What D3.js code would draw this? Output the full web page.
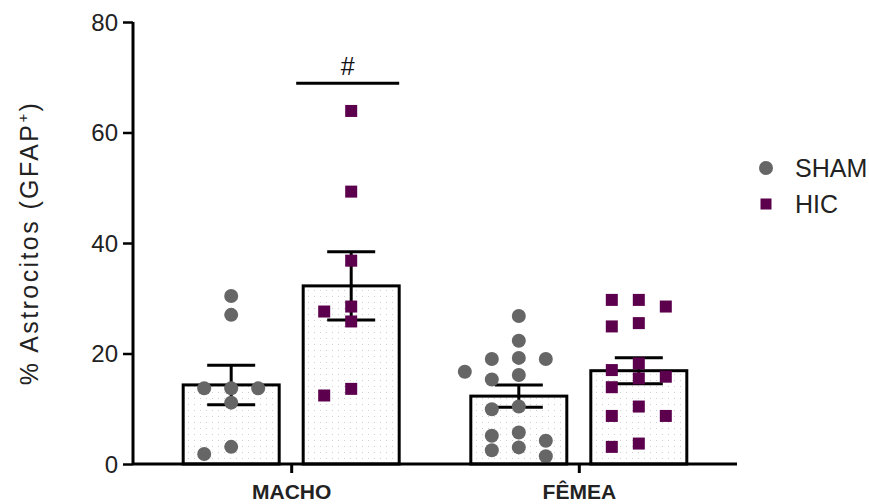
<!DOCTYPE html>
<html lang="pt">

<head>
	<meta charset="utf-8">
	<title>astrocitos_gfap</title>
	<style>
		body { margin: 0; background: #fff; }
		svg { display: block; font-family: "Liberation Sans", Arial, sans-serif; }
	</style>
</head>

<body>
	<script src="https://cdn.jsdelivr.net/npm/d3@7"></script>
	<script>

		const categories = ["MACHO", "FÊMEA"];
		const groups = ["SHAM", "HIC"];
		const yTicks = [0, 20, 40, 60, 80];

		// individual animals
		const machoSham = [30.4, 27.0, 13.7, 13.7, 13.7, 11.1, 3.1, 1.8];
		const machoHic = [63.9, 49.3, 36.8, 28.5, 27.6, 25.8, 13.6, 12.4];
		const femeaSham = [26.8, 22.3, 19.2, 19.0, 19.0, 16.7, 16.1, 15.3, 10.4, 9.9, 5.7, 5.1, 4.2, 3.0, 2.5, 1.4];
		const femeaHic = [29.7, 29.7, 28.5, 25.5, 24.9, 18.2, 17.0, 15.8, 15.5, 13.9, 10.4, 8.7, 8.7, 3.7, 3.1];

		const significance = [{ category: "MACHO", group: "HIC", label: "#", y: 68.9 }];

		const series = [
			{ category: "MACHO", group: "SHAM", values: machoSham },
			{ category: "MACHO", group: "HIC", values: machoHic },
			{ category: "FÊMEA", group: "SHAM", values: femeaSham },
			{ category: "FÊMEA", group: "HIC", values: femeaHic }
		];

		const width = 869;
		const height = 504;
		const margin = { top: 22, left: 133, bottom: 40 };
		const axisEnd = 737;

		const colors = { SHAM: "#666666", HIC: "#5c004d" };

		const svg = d3.select("body")
			.append("svg")
			.attr("width", width)
			.attr("height", height);

		const y = d3.scaleLinear()
			.domain([0, 80])
			.range([height - margin.bottom, margin.top]);

		const x = d3.scalePoint()
			.domain(categories)
			.range([margin.left, axisEnd])
			.padding(0.55);

		const xg = d3.scaleBand()
			.domain(groups)
			.range([-108, 108])
			.paddingInner(0.2);

		// dotted bar fill
		const defs = svg.append("defs");
		const pat = defs.append("pattern")
			.attr("id", "dots")
			.attr("patternUnits", "userSpaceOnUse")
			.attr("width", 6)
			.attr("height", 6);
		pat.append("rect").attr("width", 6).attr("height", 6).attr("fill", "#fff");
		pat.append("rect").attr("x", 2).attr("y", 2).attr("width", 1).attr("height", 1).attr("fill", "#cfcfcf");

		series.forEach((s) => {
			s.mean = d3.mean(s.values);
			s.sem = d3.deviation(s.values) / Math.sqrt(s.values.length);
			s.cx = x(s.category) + xg(s.group) + xg.bandwidth() / 2;
		});

		// bars
		svg.append("g")
			.selectAll("rect")
			.data(series)
			.join("rect")
			.attr("x", (d) => x(d.category) + xg(d.group))
			.attr("y", (d) => y(d.mean))
			.attr("width", xg.bandwidth())
			.attr("height", (d) => y(0) - y(d.mean))
			.attr("fill", "url(#dots)")
			.attr("stroke", "#000")
			.attr("stroke-width", 3);

		// error bars (mean ± SEM)
		const capW = 24;
		const err = svg.append("g")
			.attr("stroke", "#000")
			.attr("stroke-width", 3)
			.selectAll("g")
			.data(series)
			.join("g");
		err.append("line")
			.attr("x1", (d) => d.cx).attr("x2", (d) => d.cx)
			.attr("y1", (d) => y(d.mean - d.sem)).attr("y2", (d) => y(d.mean + d.sem));
		err.append("line")
			.attr("x1", (d) => d.cx - capW).attr("x2", (d) => d.cx + capW)
			.attr("y1", (d) => y(d.mean + d.sem)).attr("y2", (d) => y(d.mean + d.sem));
		err.append("line")
			.attr("x1", (d) => d.cx - capW).attr("x2", (d) => d.cx + capW)
			.attr("y1", (d) => y(d.mean - d.sem)).attr("y2", (d) => y(d.mean - d.sem));

		// simple swarm: spread overlapping points sideways in fixed steps
		function swarm(values, cx) {
			const step = 27;
			const minD = 14;
			const order = [0, -1, 1, -2, 2, -3, 3];
			const placed = [];
			values.slice().sort((a, b) => b - a).forEach((v) => {
				const py = y(v);
				for (const k of order) {
					const px = cx + k * step;
					const hit = placed.some((p) => Math.abs(p.x - px) < 1 && Math.abs(p.y - py) < minD);
					if (!hit) {
						placed.push({ x: px, y: py, v });
						break;
					}
				}
			});
			return placed;
		}

		const pts = svg.append("g");
		series.forEach((s) => {
			const p = swarm(s.values, s.cx);
			if (s.group === "SHAM") {
				pts.append("g").selectAll("circle")
					.data(p)
					.join("circle")
					.attr("cx", (d) => d.x)
					.attr("cy", (d) => d.y)
					.attr("r", 7)
					.attr("fill", colors.SHAM);
			} else {
				pts.append("g").selectAll("rect")
					.data(p)
					.join("rect")
					.attr("x", (d) => d.x - 6)
					.attr("y", (d) => d.y - 6)
					.attr("width", 12)
					.attr("height", 12)
					.attr("fill", colors.HIC);
			}
		});

		// axes
		const yAxis = svg.append("g")
			.attr("transform", `translate(${margin.left},0)`)
			.call(d3.axisLeft(y).tickValues(yTicks).tickSize(10).tickPadding(5));
		yAxis.select(".domain").attr("d", `M0,${y(80)}V${y(0)}`).attr("stroke-width", 3);
		yAxis.selectAll(".tick line").attr("stroke-width", 2.5);
		yAxis.selectAll(".tick text")
			.attr("font-size", 24)
			.attr("dy", "0.35em")
			.attr("font-family", "Liberation Sans, Arial, sans-serif")
			.attr("fill", "#222");

		const xAxis = svg.append("g")
			.attr("transform", `translate(0,${y(0)})`)
			.call(d3.axisBottom(x).tickSize(9).tickPadding(0));
		xAxis.select(".domain").attr("d", `M${margin.left},0H${axisEnd}`).attr("stroke-width", 3);
		xAxis.selectAll(".tick line").attr("stroke-width", 3);
		xAxis.selectAll(".tick text")
			.attr("y", 35)
			.attr("dy", 0)
			.attr("font-size", 21)
			.attr("font-weight", "bold")
			.attr("font-family", "Liberation Sans, Arial, sans-serif")
			.attr("fill", "#222");

		// y title
		const yTitle = svg.append("text")
			.attr("transform", `translate(38,${(y(0) + y(80)) / 2}) rotate(-90)`)
			.attr("text-anchor", "middle")
			.attr("font-size", 25)
			.attr("letter-spacing", 2.4)
			.attr("fill", "#222");
		yTitle.append("tspan").text("% Astrocitos (GFAP");
		yTitle.append("tspan").attr("dy", -10).attr("font-size", 15).text("+");
		yTitle.append("tspan").attr("dy", 10).text(")");

		// significance bracket
		significance.forEach((s) => {
			const x0 = x(s.category) + xg(s.group) - 7;
			const x1 = x(s.category) + xg(s.group) + xg.bandwidth();
			svg.append("line")
				.attr("x1", x0).attr("x2", x1)
				.attr("y1", y(s.y)).attr("y2", y(s.y))
				.attr("stroke", "#000")
				.attr("stroke-width", 3);
			svg.append("text")
				.attr("x", (x0 + x1) / 2)
				.attr("y", y(s.y) - 8)
				.attr("text-anchor", "middle")
				.attr("font-size", 25)
				.attr("fill", "#111")
				.text(s.label);
		});

		// legend
		const legend = svg.append("g")
			.attr("transform", "translate(766,168)");
		groups.forEach((g, i) => {
			const row = legend.append("g").attr("transform", `translate(0,${i * 36})`);
			if (g === "SHAM") {
				row.append("circle").attr("r", 7).attr("fill", colors.SHAM);
			} else {
				row.append("rect").attr("x", -5.5).attr("y", -5.5).attr("width", 11).attr("height", 11).attr("fill", colors.HIC);
			}
			row.append("text")
				.attr("x", 29)
				.attr("dy", "0.36em")
				.attr("font-size", 25)
				.attr("fill", "#222")
				.text(g);
		});
	</script>
</body>

</html>
